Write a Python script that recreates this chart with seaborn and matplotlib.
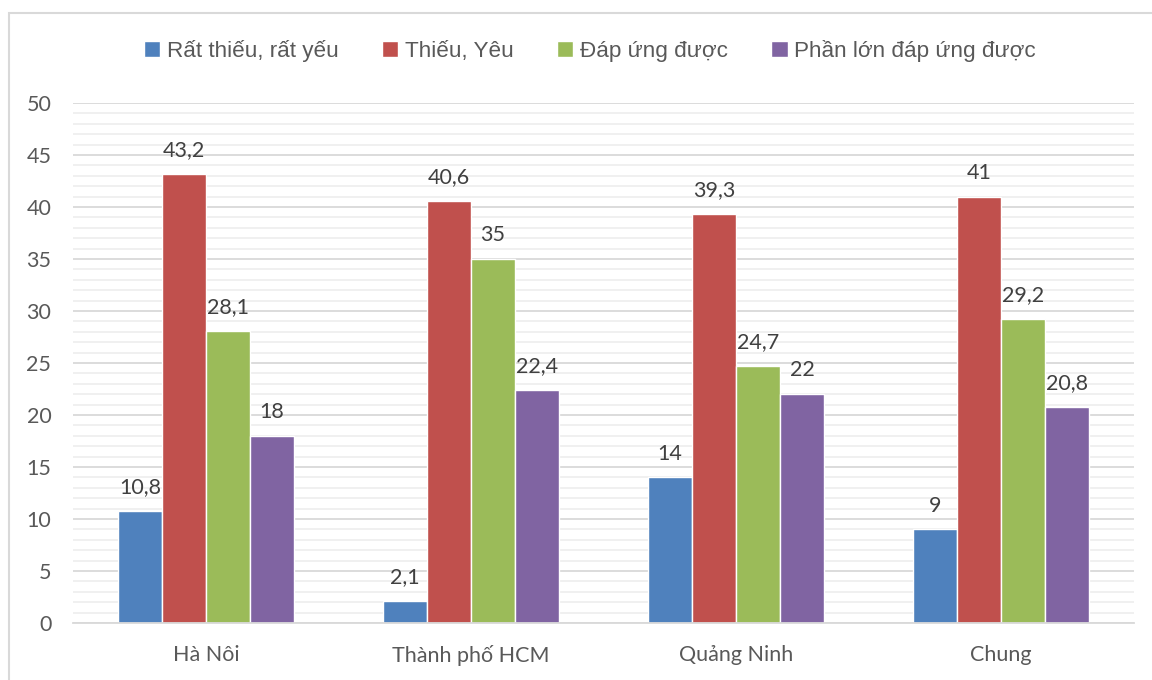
import pandas as pd
import matplotlib
matplotlib.use("Agg")
import matplotlib.pyplot as plt
import seaborn as sns
from matplotlib.patches import Rectangle
from matplotlib.ticker import MultipleLocator

# data
regions = ["Hà Nôi", "Thành phố HCM", "Quảng Ninh", "Chung"]
series = ["Rất thiếu, rất yếu", "Thiếu, Yêu", "Đáp ứng được", "Phần lớn đáp ứng được"]
rat_thieu = [10.8, 2.1, 14, 9]
thieu_yeu = [43.2, 40.6, 39.3, 41]
dap_ung = [28.1, 35, 24.7, 29.2]
phan_lon = [18, 22.4, 22, 20.8]
colors = ["#4F81BD", "#C0504D", "#9BBB59", "#8064A2"]

rows = []
for name, vals in zip(series, [rat_thieu, thieu_yeu, dap_ung, phan_lon]):
    for reg, v in zip(regions, vals):
        rows.append({"region": reg, "series": name, "value": v})
df = pd.DataFrame(rows)

sns.set_theme(style="white")
plt.rcParams["font.family"] = ["Lato", "Noto Sans", "DejaVu Sans"]
text_color = "#595959"

fig = plt.figure(figsize=(11.52, 6.8), dpi=100)
ax = fig.add_axes([0.0638, 0.0838, 0.9202, 0.7647])

sns.barplot(data=df, x="region", y="value", hue="series", order=regions,
            hue_order=series, palette=colors, saturation=1, width=0.665,
            gap=0, ax=ax, legend=True)

for cont, vals in zip(ax.containers, [rat_thieu, thieu_yeu, dap_ung, phan_lon]):
    labels = [f"{v:g}".replace(".", ",") for v in vals]
    ax.bar_label(cont, labels=labels, padding=10, fontsize=15.5, color="#404040")

ax.set_ylim(0, 50)
ax.set_xlim(-0.5, 3.5)
ax.yaxis.set_major_locator(MultipleLocator(5))
ax.yaxis.set_minor_locator(MultipleLocator(1))
ax.grid(axis="y", which="major", color="#d9d9d9", lw=1.3)
ax.grid(axis="y", which="minor", color="#efefef", lw=1.3)
ax.set_axisbelow(True)
for s in ["left", "right", "top"]:
    ax.spines[s].set_visible(False)
ax.spines["bottom"].set_color("#d9d9d9")
ax.spines["bottom"].set_linewidth(1.3)
ax.tick_params(axis="y", which="both", length=0, pad=16, labelsize=15.5, labelcolor=text_color)
ax.tick_params(axis="x", length=0, pad=16, labelsize=15.5, labelcolor=text_color)
ax.set_xlabel("")
ax.set_ylabel("")

handles, labels = ax.get_legend_handles_labels()
ax.legend_.remove()
fig.legend(handles, labels, loc="center", bbox_to_anchor=(0.512, 0.925), ncol=4,
           frameon=False, handlelength=0.75, handleheight=0.75,
           handletextpad=0.3, columnspacing=1.9, labelcolor=text_color,
           prop={"family": ["Liberation Sans", "DejaVu Sans"], "size": 16.2})

fig.patches.append(Rectangle((0.0078, -0.02), 1.05, 1.001, transform=fig.transFigure,
                             fill=False, edgecolor="#d9d9d9", lw=1.5))

fig.savefig("out.png", dpi=100)
